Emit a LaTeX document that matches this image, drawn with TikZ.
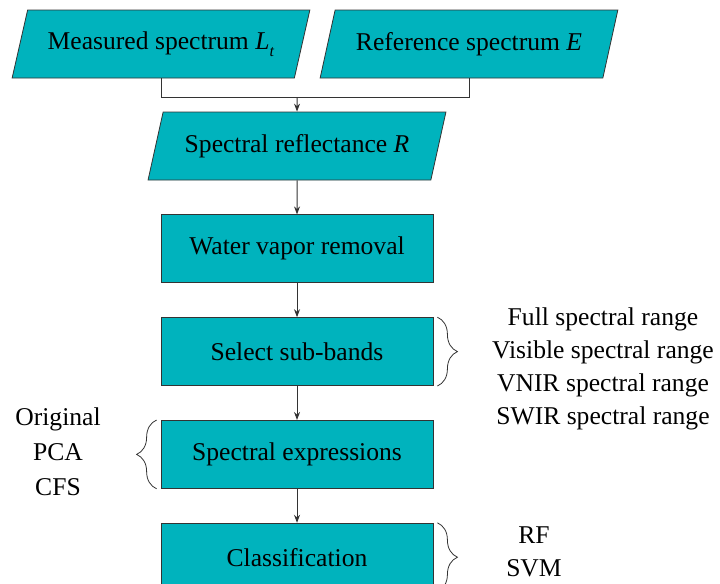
\documentclass[tikz,border=0pt]{standalone}
\usepackage{fontspec}
\setmainfont{Liberation Serif}
\usetikzlibrary{arrows.meta, positioning, shapes.geometric, decorations.pathreplacing}
\definecolor{boxteal}{RGB}{0,179,189}
\newcommand{\Lt}{\textit{L}\raisebox{-0.6ex}{\footnotesize\textit{t}}}

\begin{document}
\begin{tikzpicture}[>={Stealth[length=4pt,width=3pt]},
    font=\fontsize{12.8}{16.5}\selectfont,
    proc/.style={draw=black!80, rectangle, fill=boxteal, minimum width=136pt, minimum height=34pt, align=center},
    io/.style={draw=black!80, trapezium, trapezium left angle=70, trapezium right angle=110, trapezium stretches=true, fill=boxteal, minimum width=149pt, minimum height=34pt},
    brc/.style={decorate, decoration={brace, amplitude=10pt}, black!80},
    lbl/.style={align=center},
    link/.style={black!80, line width=0.5pt}]

    \useasboundingbox (0,0) rectangle (360pt,-292pt);

    % inputs
    \node[io] (meas) at (80.5pt,-22pt) {Measured spectrum \Lt};
    \node[io] (ref) at (234.5pt,-22pt) {Reference spectrum \textit{E}};
    \node[io] (refl) at (148.5pt,-73pt) {Spectral reflectance \textit{R}};

    % processing chain
    \node[proc, below=17pt of refl] (vapor) {Water vapor removal};
    \node[proc, below=17pt of vapor] (bands) {Select sub-bands};
    \node[proc, below=17pt of bands] (expr) {Spectral expressions};
    \node[proc, below=17pt of expr] (cls) {Classification};

    \coordinate (junc) at ([yshift=7pt]refl.north);
    \draw[link] (meas) |- (junc) -| (ref);
    \draw[link, ->] (junc) -- (refl);
    \draw[link, ->] (refl) -- (vapor);
    \draw[link, ->] (vapor) -- (bands);
    \draw[link, ->] (bands) -- (expr);
    \draw[link, ->] (expr) -- (cls);

    % options
    \draw[brc] ([xshift=2pt]bands.north east) -- ([xshift=2pt]bands.south east);
    \node[lbl] (bandopts) at (301.5pt,-184.5pt) {Full spectral range\\Visible spectral range\\VNIR spectral range\\SWIR spectral range};
    \draw[brc] ([xshift=-2pt]expr.south west) -- ([xshift=-2pt]expr.north west);
    \node[lbl, font=\fontsize{12.8}{17.5}\selectfont] (expropts) at (29pt,-226pt) {Original\\PCA\\CFS};
    \draw[brc] ([xshift=2pt]cls.north east) -- ([xshift=2pt]cls.south east);
    \node[lbl] (clsopts) at (267pt,-276pt) {RF\\SVM};
\end{tikzpicture}
\end{document}
